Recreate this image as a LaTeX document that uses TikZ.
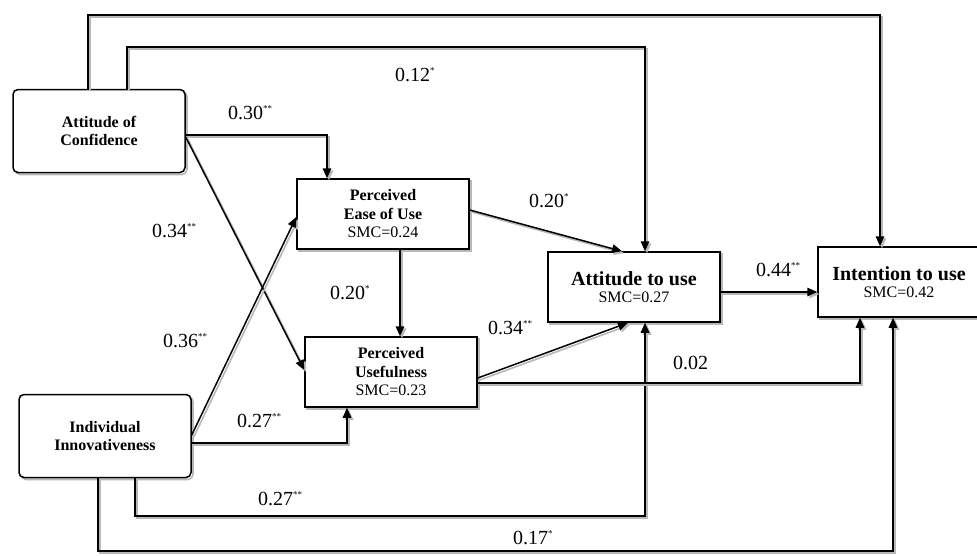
\documentclass[tikz,border=0pt]{standalone}
\usepackage{fontspec}
\setmainfont{Liberation Serif}
\usetikzlibrary{arrows.meta}
\tikzset{
  shd/.style={preaction={draw=black!28, line width=1.6pt, transform canvas={shift={(2pt,-2pt)}}}},
  conn/.style={shd, draw=black, line width=1.5pt, -{Triangle[length=10pt,width=8.5pt]}},
  boxbase/.style={shd, draw=black, line width=1.5pt, fill=white, inner sep=0pt, align=center},
  rbox/.style={boxbase, rounded corners=5pt, minimum width=172pt, minimum height=83pt,
     font=\fontsize{16}{18}\selectfont\bfseries},
  sbox/.style={boxbase, minimum width=172pt, minimum height=70pt,
     font=\fontsize{16}{18.5}\selectfont},
  lbl/.style={anchor=base west, inner sep=0pt, font=\fontsize{20}{22}\selectfont}
}
\newcommand{\stt}[1]{\raisebox{8pt}{\fontsize{9}{9}\selectfont #1}}
\begin{document}
\begin{tikzpicture}[x=1pt,y=-1pt]
\useasboundingbox[fill=white] (0,0) rectangle (977,555);

% nodes
\node[rbox] (AC) at (99,131) {Attitude of\\Confidence};
\node[rbox] (II) at (105,436) {Individual\\Innovativeness};
\node[sbox] (PEOU) at (383,214) {\textbf{Perceived}\\\textbf{Ease of Use}\\SMC=0.24};
\node[sbox] (PU) at (391,372) {\textbf{Perceived}\\\textbf{Usefulness}\\SMC=0.23};
\node[sbox] (ATU) at (634,287) {\fontsize{20}{20}\selectfont\bfseries Attitude to use\\[-1pt]SMC=0.27};
\node[sbox, minimum width=162pt] (ITU) at (899,282) {\fontsize{20}{20}\selectfont\bfseries Intention to use\\[-1pt]SMC=0.42};

% helper coordinates
\coordinate (c1) at (880,15);
\coordinate (c3) at (645,47);
\coordinate (c7) at (645,516);
\coordinate (c8) at (893,551);

% connectors
\draw[conn] ([xshift=-11pt]AC.north) |- (c1) -- (c1 |- ITU.north);
\draw[conn] ([xshift=28pt]AC.north) |- (c3) -- (c3 |- ATU.north);
\draw[conn] ([yshift=-4pt]AC.east) -| ([xshift=-56pt]PEOU.north);
\draw[conn] ([yshift=-6pt]AC.east) -- ([yshift=2pt]PU.west);
\draw[conn] ([yshift=1pt]II.east) -- ([yshift=-3pt]PEOU.west);
\draw[conn] ([yshift=-7pt]II.east) -| ([xshift=-44pt]PU.south);
\draw[conn] ([xshift=30pt]II.south) |- (c7) -- (c7 |- ATU.south);
\draw[conn] ([xshift=-7pt]II.south) |- (c8) -- (c8 |- ITU.south);
\draw[conn] ([yshift=4pt]PEOU.east) -- ([xshift=-12pt]ATU.north);
\draw[conn] ([xshift=17pt]PEOU.south) -- ([xshift=9pt]PU.north);
\draw[conn] ([yshift=-6pt]PU.east) -- ([xshift=-6pt]ATU.south);
\draw[conn] ([yshift=-11pt]PU.east) -| ([xshift=-39pt]ITU.south);
\draw[conn] ([yshift=-5pt]ATU.east) -- ([yshift=-10pt]ITU.west);

% labels
\node[lbl] (l1) at (395,81) {0.12\stt{*}};
\node[lbl] (l2) at (228,119) {0.30\stt{**}};
\node[lbl] (l3) at (152,237) {0.34\stt{**}};
\node[lbl] (l4) at (163,347) {0.36\stt{**}};
\node[lbl] (l5) at (330,299) {0.20\stt{*}};
\node[lbl] (l6) at (237,427) {0.27\stt{**}};
\node[lbl] (l7) at (258,505) {0.27\stt{**}};
\node[lbl] (l8) at (529,207) {0.20\stt{*}};
\node[lbl] (l9) at (488,334) {0.34\stt{**}};
\node[lbl] (l10) at (673,369) {0.02};
\node[lbl] (l11) at (513,544) {0.17\stt{*}};
\node[lbl] (l12) at (756,276) {0.44\stt{**}};
\end{tikzpicture}
\end{document}
